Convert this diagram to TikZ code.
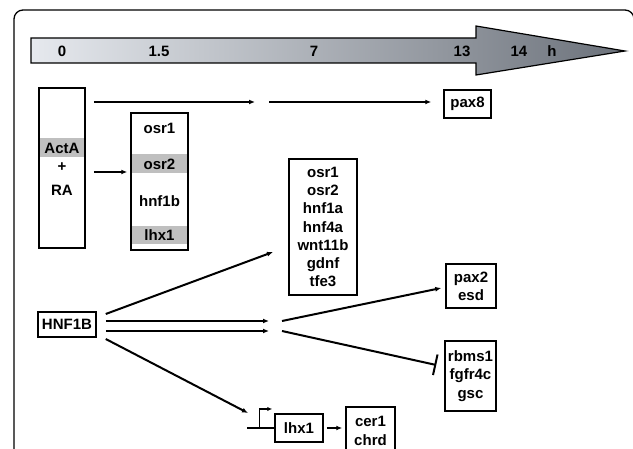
\documentclass[tikz,border=0pt]{standalone}
\usepackage{fontspec}
\setmainfont{Liberation Sans}
\usetikzlibrary{arrows.meta}
\definecolor{tlLight}{HTML}{E6E9EE}
\definecolor{tlDark}{HTML}{6C727B}

\begin{document}
\begin{tikzpicture}[x=1pt, y=-1pt,
    gene/.style={draw, line width=1.5pt, align=center, inner sep=0pt,
      font=\fontsize{15}{18.3}\selectfont\bfseries},
    lbl/.style={inner sep=0pt, font=\fontsize{15}{18.3}\selectfont\bfseries},
    arr/.style={line width=2pt, -{Latex[length=6pt,width=5pt]}},
    inh/.style={line width=2pt, -{Bar[width=21pt,line width=2pt]}},
    band/.style={fill=black!25}]
  %%%%% START %%%%%
  \clip (0,0) rectangle (633,449);

  % frame
  \draw[line width=1.3pt, rounded corners=9pt] (14,10) rectangle (634,480);

  % time axis
  \shadedraw[left color=tlLight, right color=tlDark, line width=1.2pt]
    (31,38) -- (476,38) -- (476,26) -- (625,51) -- (476,75) -- (476,63) -- (31,63) -- cycle;
  \foreach \t/\x [count=\i] in {0/62, 1.5/159, 7/314, 13/462, 14/519, h/552}
    \node[lbl] (tick\i) at (\x,51) {\t};

  % ActA + RA
  \fill[band] (40,138) rectangle (84,157);
  \node[gene, minimum width=46pt, minimum height=160pt] (acta) at (62,168) {};
  \node[lbl] (actaTxt) at (62,148) {ActA};
  \node[lbl] (plus) at (62,167) {+};
  \node[lbl] (ra) at (62,190) {RA};

  % early genes
  \fill[band] (132,154) rectangle (187,173);
  \fill[band] (132,226) rectangle (187,244);
  \node[gene, minimum width=57pt, minimum height=137pt] (osr) at (159.5,181.5) {};
  \node[lbl] (osrA) at (159.5,128) {osr1};
  \node[lbl] (osrB) at (159.5,164) {osr2};
  \node[lbl] (hnfb) at (159.5,201) {hnf1b};
  \node[lbl] (lhxA) at (159.5,235) {lhx1};

  \node[gene, minimum width=47pt, minimum height=28pt] (pax8) at (467.5,104) {pax8};

  % HNF1B targets
  \node[gene, minimum width=58pt, minimum height=25pt] (hnf) at (67,324.5) {HNF1B};
  \node[gene, minimum width=68pt, minimum height=136pt] (targets) at (323,227)
    {osr1\\osr2\\hnf1a\\hnf4a\\wnt11b\\gdnf\\tfe3};
  \node[gene, minimum width=50pt, minimum height=44pt] (pax2) at (471,286) {pax2\\esd};
  \node[gene, minimum width=51pt, minimum height=70pt] (rbms) at (470.5,376) {rbms1\\fgfr4c\\gsc};
  \node[gene, minimum width=48pt, minimum height=28pt] (lhx) at (299,428) {lhx1};
  \node[gene, minimum width=49pt, minimum height=48pt] (cer) at (370.5,431) {cer1\\chrd};

  % connectors
  \coordinate (gapL) at (255,102);
  \coordinate (gapR) at (269,102);
  \coordinate (hnfOut) at ([xshift=9pt]hnf.east);
  \coordinate (upEnd) at (273,252);
  \coordinate (dblA) at (269,321);
  \coordinate (dblB) at (269,331);
  \coordinate (fanA) at (282,321);
  \coordinate (fanB) at (282,331);
  \coordinate (lowEnd) at (248,413);

  \draw[arr, shorten <=8pt] (acta.east |- gapL) -- (gapL);
  \draw[arr, line width=1.7pt, shorten >=12pt] (gapR) -- (pax8.west |- gapR);
  \draw[arr, shorten <=8pt, shorten >=3pt] ([yshift=-4pt]acta.east) -- ([yshift=-4pt]acta.east -| osr.west);

  \draw[arr] ([yshift=10.5pt]hnfOut) -- (upEnd);
  \draw[arr] ([yshift=3.5pt]hnfOut) -- (dblA);
  \draw[arr] ([yshift=-6.5pt]hnfOut) -- (dblB);
  \draw[arr] ([yshift=-14.5pt]hnfOut) -- (lowEnd);
  \draw[arr] (fanA) -- ([xshift=-4pt,yshift=-2pt]pax2.west);
  \draw[inh] (fanB) -- ([xshift=-8pt,yshift=11pt]rbms.west);

  % promoter of lhx1
  \draw[line width=2pt] ([xshift=-27pt]lhx.west) -- (lhx.west);
  \draw[line width=1.5pt, -{Latex[length=5pt,width=4.5pt]}] ([xshift=-15pt]lhx.west) -- ++(0,-19) -- ++(13,0);
  \draw[arr, shorten <=3pt, shorten >=3pt] (lhx.east) -- (lhx.east -| cer.west);
  %%%%% END %%%%%
\end{tikzpicture}
\end{document}
